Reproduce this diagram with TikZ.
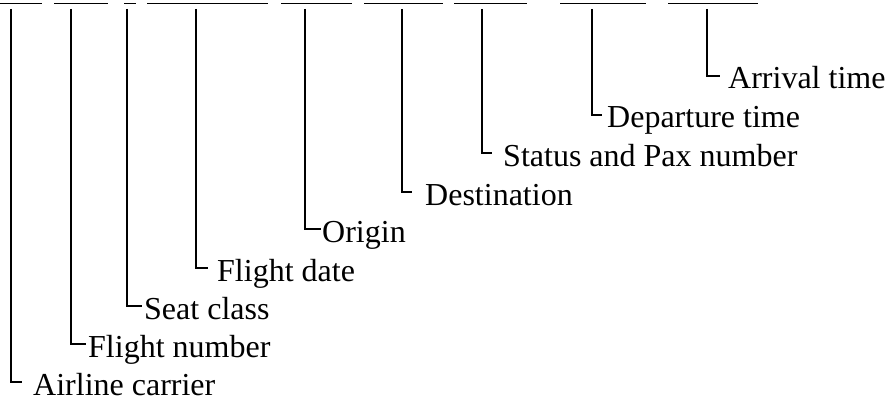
\documentclass[tikz,border=0pt]{standalone}
\usepackage{fontspec}
\setmainfont{Liberation Serif}
\begin{document}
\begin{tikzpicture}[x=1pt,y=-1pt,
  field/.style={line width=1.3pt},
  leader/.style={line width=1.3pt},
  lbl/.style={anchor=base west,inner sep=0pt,font=\fontsize{32}{38}\selectfont}]
\useasboundingbox (0,0) rectangle (890,401);
% underline fields
\foreach \a/\b in {0/42,54/108,124/136,147/268,281/352,364/443,454/527,560/646,668/758}
  \draw[field] (\a,3.5) -- (\b,3.5);
% labels: name / vertical x / corner end x / text x / baseline / text
\foreach \n/\vx/\cx/\tx/\bl/\t in {
  air/11/22/33/395/Airline carrier,
  fno/71/86/88/357/Flight number,
  seat/127/142/144/319/Seat class,
  date/196/208/217/281/Flight date,
  orig/305/321/322/242/Origin,
  dest/402/412/425/205/Destination,
  stat/482/492/503/166/Status and Pax number,
  dep/592/602/607/128/Departure time,
  arr/707/720/728/89/Arrival time}{
  \node[lbl] (\n) at (\tx,\bl) {\t};
  \coordinate (\n-top) at (\vx,9);
  \coordinate (\n-end) at (\cx,\bl-13);
  \draw[leader] (\n-top) |- (\n-end);
}
\end{tikzpicture}
\end{document}
